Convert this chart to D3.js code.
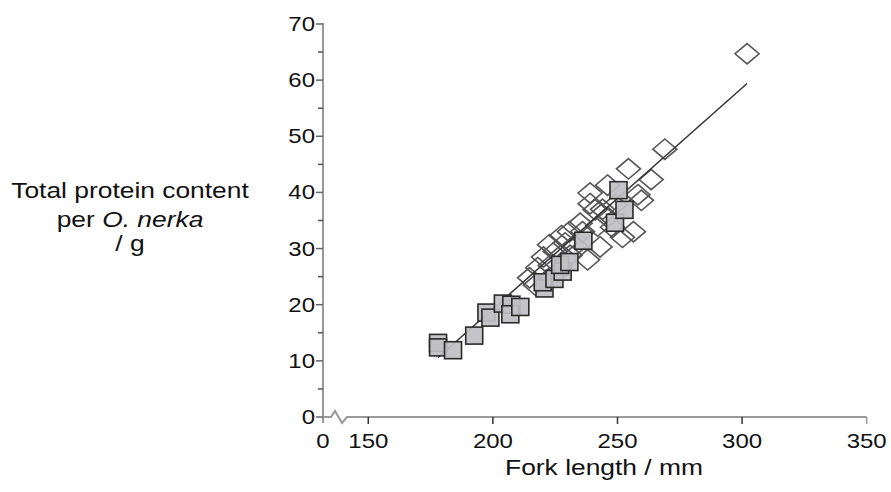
<!DOCTYPE html>
<html>
<head>
<meta charset="utf-8">
<script src="https://cdn.jsdelivr.net/npm/d3@7"></script>
<style>
  body { margin: 0; background: #fff; }
  svg { font-family: "Liberation Sans", Arial, sans-serif; }
</style>
</head>
<body>
<div id="chart"></div>
<script>
const width = 891
const height = 492

// open diamonds: [fork length mm, protein g]
const diamonds = [
  [302, 64.7], [269, 47.7], [254.4, 44.2], [263.5, 42.3], [258.2, 39.6],
  [246, 41.3], [239, 39.9], [239, 38], [241, 36.9], [246, 35.6],
  [256.4, 33], [252, 32], [243, 30.3], [238, 28], [236, 33],
  [230.7, 33], [227.5, 32.3], [222.7, 30.7], [220.3, 28.5], [218, 26.6],
  [214.7, 24.8], [259.6, 38.6], [249, 37.8], [233, 30.5], [225, 29.5],
  [229, 31], [235, 34.5], [242, 34], [248, 33.8], [223, 27],
  [231, 28.8], [217, 23.5], [226, 25.8], [244, 37]
]

// filled squares
const squares = [
  [178, 13.2], [178, 12.4], [184, 11.9], [192.5, 14.5], [197.4, 18.6],
  [199, 17.7], [204, 20.2], [207.4, 20], [207, 18.3], [211, 19.6],
  [220.7, 22.9], [220, 24], [224.7, 24.6], [228, 25.9], [227, 27.1],
  [230.7, 27.6], [236.3, 31.4], [249, 34.6], [250.4, 40.4], [252.8, 36.9]
]

// fitted line ends
const fitLine = [[178, 10.6], [302, 59.4]]

const yTicks = [0, 10, 20, 30, 40, 50, 60, 70]
const yMinor = [5, 15, 25, 35, 45, 55, 65]
const xTicks = [150, 200, 250, 300, 350]

const svg = d3.select('#chart').append('svg')
  .attr('width', width)
  .attr('height', height)

const x = d3.scaleLinear().domain([150, 350]).range([368.3, 866.7])
const y = d3.scaleLinear().domain([0, 70]).range([417, 24])
const x0 = 323

const axisColor = '#999'
const stretch = 1.2

// text is a bit wide in the original, so stretch it horizontally
function label(px, py, anchor, size) {
  return svg.append('g')
    .attr('transform', `translate(${px},${py}) scale(${stretch},1)`)
    .append('text')
    .attr('text-anchor', anchor)
    .attr('font-size', size)
    .attr('fill', '#111')
}

// y axis
svg.append('line')
  .attr('x1', x0).attr('x2', x0)
  .attr('y1', y(70) - 1).attr('y2', y(0) + 6)
  .attr('stroke', axisColor).attr('stroke-width', 2)

svg.selectAll('line.ymaj').data(yTicks).enter().append('line')
  .attr('class', 'ymaj')
  .attr('x1', x0 - 7).attr('x2', x0)
  .attr('y1', d => y(d)).attr('y2', d => y(d))
  .attr('stroke', '#666').attr('stroke-width', 1.5)

svg.selectAll('line.ymin').data(yMinor).enter().append('line')
  .attr('class', 'ymin')
  .attr('x1', x0 - 5).attr('x2', x0)
  .attr('y1', d => y(d)).attr('y2', d => y(d))
  .attr('stroke', '#555').attr('stroke-width', 1.5)

yTicks.forEach(d => {
  label(x0 - 8, y(d) + 7, 'end', 20).text(d)
})

// x axis with break
const ya = y(0)
svg.append('path')
  .attr('d', `M${x0},${ya} L${x0 + 8},${ya} L${x0 + 12},${ya - 6} L${x0 + 19},${ya + 6} L${x0 + 24},${ya} L${x(350)},${ya}`)
  .attr('fill', 'none')
  .attr('stroke', axisColor).attr('stroke-width', 2)

svg.selectAll('line.xt').data(xTicks).enter().append('line')
  .attr('class', 'xt')
  .attr('x1', d => x(d)).attr('x2', d => x(d))
  .attr('y1', ya).attr('y2', ya + 7)
  .attr('stroke', d => d === 350 ? axisColor : '#333').attr('stroke-width', 1.5)

xTicks.forEach(d => {
  label(x(d), ya + 31, 'middle', 20).text(d)
})
label(x0, ya + 31, 'middle', 20).text('0')

// axis titles
label(604, 475, 'middle', 22).text('Fork length / mm')
label(130, 198, 'middle', 22).text('Total protein content')
const t2 = label(130, 227, 'middle', 22)
t2.append('tspan').text('per ')
t2.append('tspan').attr('font-style', 'italic').text('O. nerka')
label(130, 251, 'middle', 22).text('/ g')

// diamonds
const dr = 12
svg.selectAll('path.dia').data(diamonds).enter().append('path')
  .attr('class', 'dia')
  .attr('d', d => {
    const cx = x(d[0]), cy = y(d[1])
    return `M${cx},${cy - dr * 0.85} L${cx + dr},${cy} L${cx},${cy + dr * 0.85} L${cx - dr},${cy} Z`
  })
  .attr('fill', 'none')
  .attr('stroke', '#555')
  .attr('stroke-width', 1.6)

// fit line
svg.append('line')
  .attr('x1', x(fitLine[0][0])).attr('y1', y(fitLine[0][1]))
  .attr('x2', x(fitLine[1][0])).attr('y2', y(fitLine[1][1]))
  .attr('stroke', '#333').attr('stroke-width', 1.5)

// squares
const s = 17
svg.selectAll('rect.sq').data(squares).enter().append('rect')
  .attr('class', 'sq')
  .attr('x', d => x(d[0]) - s / 2)
  .attr('y', d => y(d[1]) - s / 2)
  .attr('width', s).attr('height', s)
  .attr('fill', '#c0c0c4')
  .attr('fill-opacity', 0.92)
  .attr('stroke', '#2a2a2a')
  .attr('stroke-width', 1.6)
</script>
</body>
</html>
